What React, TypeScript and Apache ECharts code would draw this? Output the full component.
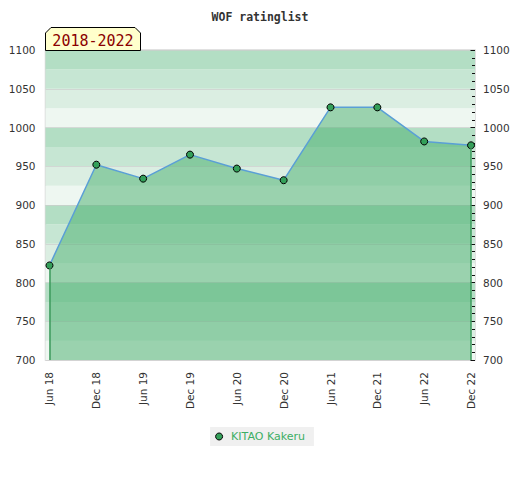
import React, { useEffect, useRef } from "react";
import * as echarts from "echarts";

const CATEGORIES = ["Jun 18", "Dec 18", "Jun 19", "Dec 19", "Jun 20", "Dec 20", "Jun 21", "Dec 21", "Jun 22", "Dec 22"];
const RATINGS = [822, 952, 934, 965, 947, 932, 1026, 1026, 982, 977];
const SERIES_NAME = "KITAO Kakeru";
const TITLE = "WOF ratinglist";
const PERIOD = "2018-2022";
const Y_MIN = 700;
const Y_MAX = 1100;
const Y_STEP = 50;
const BAND_STEP = 25;
const BAND_COLORS = ["#eef7f1", "#dbeee2", "#c6e6d3", "#b3dec4"];

const FONT = "DejaVu Sans";

export default function App() {
  const ref = useRef<HTMLDivElement>(null);
  useEffect(() => {
    if (!ref.current) return;
    const chart = echarts.init(ref.current, undefined, { renderer: "svg" });
    const last = RATINGS.length - 1;
    const plain = (v: number) => String(v);
    const option: any = {
      animation: false,
      title: {
        text: TITLE,
        left: "center",
        top: 6,
        textStyle: { fontFamily: "DejaVu Sans Mono", fontWeight: "bold", fontSize: 11.5, color: "#333" },
      },
      legend: {
        left: "center",
        top: 427,
        data: [SERIES_NAME],
        icon: "circle",
        itemWidth: 14,
        itemHeight: 7,
        padding: [4, 9, 4, 5],
        backgroundColor: "#f0f0f0",
        itemStyle: { color: "#34a05a", borderColor: "#000", borderWidth: 1 },
        textStyle: { fontFamily: FONT, fontSize: 11, color: "#3cae64" },
      },
      grid: { left: 45.5, right: 45, top: 50, bottom: 120, show: true, borderColor: "#d8d8d8", borderWidth: 1.5, outerBoundsMode: "none" },
      xAxis: {
        type: "value",
        min: -0.085,
        max: last + 0.085,
        axisLine: { show: false },
        axisTick: { show: false },
        splitLine: { show: false },
        axisLabel: {
          customValues: CATEGORIES.map((_, i) => i),
          formatter: (v: number) => CATEGORIES[Math.round(v)] ?? "",
          rotate: 90,
          margin: 12,
          fontFamily: FONT,
          fontSize: 10.5,
          color: "#333",
        },
      },
      yAxis: [
        {
          type: "value",
          position: "left",
          min: Y_MIN,
          max: Y_MAX,
          interval: BAND_STEP,
          axisLine: { show: false },
          axisTick: { show: false },
          axisLabel: { show: false },
          splitLine: { show: false },
          splitArea: { show: true, areaStyle: { color: BAND_COLORS } },
        },
        {
          type: "value",
          position: "left",
          min: Y_MIN,
          max: Y_MAX,
          interval: Y_STEP,
          axisLine: { show: false },
          axisTick: { show: false },
          axisLabel: { margin: 10, fontFamily: FONT, fontSize: 10.5, color: "#333", formatter: plain },
          splitLine: { show: true, lineStyle: { color: "rgba(205,205,205,0.7)", width: 1 } },
        },
        {
          type: "value",
          position: "right",
          min: Y_MIN,
          max: Y_MAX,
          interval: Y_STEP,
          axisLine: { show: false },
          axisTick: { show: true, inside: true, length: 4.5, lineStyle: { color: "#111", width: 1 } },
          minorTick: { show: true, splitNumber: 5, length: 3, lineStyle: { color: "#111", width: 1 } },
          axisLabel: { margin: 8, fontFamily: FONT, fontSize: 10.5, color: "#333", formatter: plain },
          splitLine: { show: false },
        },
      ],
      series: [
        {
          name: SERIES_NAME,
          type: "line",
          yAxisIndex: 1,
          data: RATINGS.map((v, i) => [i, v]),
          symbol: "circle",
          symbolSize: 7,
          itemStyle: { color: "#34a05a", borderColor: "#000", borderWidth: 1 },
          lineStyle: { color: "#5a9fd6", width: 1.5 },
          areaStyle: { color: "rgba(69,173,108,0.5)", opacity: 1, origin: "start" },
          markLine: {
            silent: true,
            symbol: ["none", "none"],
            label: { show: false },
            lineStyle: { color: "#3d9a5c", width: 1.5, type: "solid" },
            data: [
              [{ coord: [0, Y_MIN] }, { coord: [0, RATINGS[0]] }],
              [{ coord: [last, Y_MIN] }, { coord: [last, RATINGS[last]] }],
            ],
          },
        },
      ],
      graphic: [
        {
          type: "polygon",
          shape: { points: [[45.5, 50.5], [45.5, 33], [51, 27.5], [135, 27.5], [140.5, 33], [140.5, 50.5]] },
          style: { fill: "#ffffcc", stroke: "#000", lineWidth: 1 },
          z: 10,
        },
        {
          type: "text",
          x: 93,
          y: 40.5,
          style: {
            text: PERIOD,
            fill: "#8b0000",
            font: "15px 'DejaVu Sans Mono'",
            align: "center",
            verticalAlign: "middle",
          },
          z: 11,
        },
      ],
    };
    chart.setOption(option);
    return () => chart.dispose();
  }, []);
  return <div ref={ref} style={{ position: "absolute", left: 0, top: 0, width: 520, height: 480 }} />;
}
